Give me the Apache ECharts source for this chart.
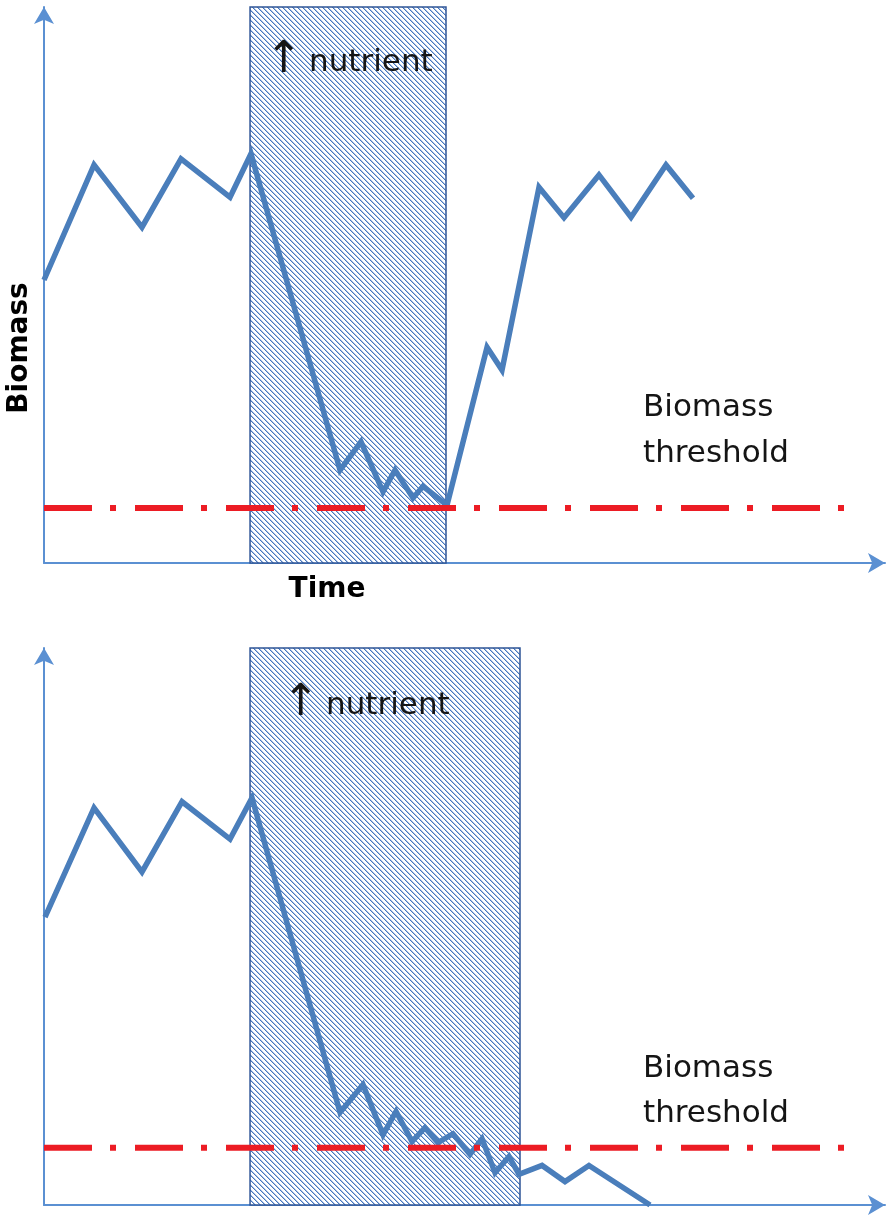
<!DOCTYPE html>
<html>
<head>
<meta charset="utf-8">
<script src="https://cdn.jsdelivr.net/npm/echarts@6/dist/echarts.min.js"></script>
<style>
  html, body { margin: 0; padding: 0; background: #fff; }
  #chart { width: 892px; height: 1220px; }
</style>
</head>
<body>
<div id="chart"></div>
<script>
// both panels: time 0..100 along x, biomass 0..100 up y (schematic units)
var topTime       = [0, 5.95, 11.65, 16.29, 22.12, 24.61, 35.20, 37.69, 40.31, 41.74, 43.88, 45.07, 47.92, 52.68, 54.46, 58.86, 61.83, 65.99, 69.80, 73.96, 77.17];
var topBiomass    = [50.9, 71.6, 60.4, 72.7, 65.8, 73.6, 16.7, 21.8, 12.8, 16.7, 11.7, 13.8, 10.4, 38.8, 34.7, 67.6, 62.1, 69.8, 62.2, 71.6, 65.6];
var bottomTime    = [0.12, 5.95, 11.65, 16.41, 22.12, 24.73, 35.20, 37.93, 40.31, 41.86, 43.76, 45.30, 46.85, 48.63, 50.65, 52.08, 53.63, 55.29, 56.48, 59.22, 61.95, 64.80, 72.06];
var bottomBiomass = [51.7, 71.3, 59.8, 72.4, 65.7, 73.1, 16.6, 21.6, 12.6, 16.8, 11.4, 13.9, 11.2, 12.8, 9.1, 11.9, 5.8, 8.7, 5.5, 7.1, 4.2, 7.1, 0];
var thresholdLevel = [9.9, 10.3];
var thresholdEnd = 95.2;
var pulseStart = [24.5, 24.5];
var pulseEnd   = [47.8, 56.6];

var lineBlue = '#4a7ebb';
var axisBlue = '#5b90d2';

// diagonal hatch tile (pixel staircase) for the nutrient pulse box
function hatchTile() {
    var p = 5;
    var c = document.createElement('canvas');
    c.width = p; c.height = p;
    var ctx = c.getContext('2d');
    ctx.fillStyle = '#fff';
    ctx.fillRect(0, 0, p, p);
    for (var y = 0; y < p; y++) {
        ctx.fillStyle = '#4677c0';
        ctx.fillRect(y, y, 1, 1);
        ctx.fillStyle = 'rgba(70,119,192,0.45)';
        ctx.fillRect((y + 1) % p, y, 1, 1);
    }
    return c;
}
var hatch = { image: hatchTile(), repeat: 'repeat' };

function zip(xs, ys) {
    var out = [];
    for (var i = 0; i < xs.length; i++) out.push([xs[i], ys[i]]);
    return out;
}

function axisLine() {
    return {
        show: true,
        symbol: ['none', 'arrow'],
        symbolSize: [15, 17],
        lineStyle: { color: axisBlue, width: 2 }
    };
}

var xAxes = [], yAxes = [], series = [];
var grids = [
    { left: 44, top: 7, width: 841, height: 556 },
    { left: 44, top: 648, width: 841, height: 557 }
];
var panels = [zip(topTime, topBiomass), zip(bottomTime, bottomBiomass)];

for (var i = 0; i < 2; i++) {
    xAxes.push({
        gridIndex: i, type: 'value', min: 0, max: 100,
        axisLine: axisLine(), axisTick: { show: false },
        axisLabel: { show: false }, splitLine: { show: false }
    });
    yAxes.push({
        gridIndex: i, type: 'value', min: 0, max: 100,
        axisLine: axisLine(), axisTick: { show: false },
        axisLabel: { show: false }, splitLine: { show: false }
    });
    // hatched box on its own series so it stays under the lines
    series.push({
        type: 'line',
        xAxisIndex: i, yAxisIndex: i,
        data: [],
        silent: true,
        z: 1,
        markArea: {
            silent: true,
            z: 1,
            label: { show: false },
            itemStyle: { color: hatch, borderColor: '#2f5597', borderWidth: 1.5 },
            data: [[{ xAxis: pulseStart[i], yAxis: 0 }, { xAxis: pulseEnd[i], yAxis: 100 }]]
        }
    });
    series.push({
        type: 'line',
        xAxisIndex: i, yAxisIndex: i,
        data: panels[i],
        symbol: 'none',
        silent: true,
        lineStyle: { color: lineBlue, width: 5.5, join: 'miter' },
        z: 5
    });
    series.push({
        type: 'line',
        xAxisIndex: i, yAxisIndex: i,
        data: [[0, thresholdLevel[i]], [thresholdEnd, thresholdLevel[i]]],
        symbol: 'none',
        silent: true,
        lineStyle: { color: '#ec1c24', width: 6, type: [48, 18, 6, 19], cap: 'butt' },
        z: 6
    });
}

var txt = '#151515';
var chart = echarts.init(document.getElementById('chart'));
chart.setOption({
    backgroundColor: '#fff',
    animation: false,
    grid: grids,
    xAxis: xAxes,
    yAxis: yAxes,
    series: series,
    graphic: [
        { type: 'text', x: 284, y: 61, z: 10,
          style: { text: '\u2191', fill: txt, font: '44px "DejaVu Sans"', align: 'center', verticalAlign: 'middle' } },
        { type: 'text', x: 309, y: 63, z: 10,
          style: { text: 'nutrient', fill: txt, font: '31px "DejaVu Sans"', align: 'left', verticalAlign: 'middle' } },
        { type: 'text', x: 301, y: 704, z: 10,
          style: { text: '\u2191', fill: txt, font: '44px "DejaVu Sans"', align: 'center', verticalAlign: 'middle' } },
        { type: 'text', x: 326, y: 706, z: 10,
          style: { text: 'nutrient', fill: txt, font: '31px "DejaVu Sans"', align: 'left', verticalAlign: 'middle' } },
        { type: 'text', x: 643, y: 385, z: 10,
          style: { text: 'Biomass\nthreshold', fill: txt, font: '31px "DejaVu Sans"', lineHeight: 46, align: 'left', verticalAlign: 'top' } },
        { type: 'text', x: 643, y: 1046, z: 10,
          style: { text: 'Biomass\nthreshold', fill: txt, font: '31px "DejaVu Sans"', lineHeight: 45, align: 'left', verticalAlign: 'top' } },
        { type: 'text', x: 327, y: 590, z: 10,
          style: { text: 'Time', fill: '#000', font: 'bold 28px "DejaVu Sans"', align: 'center', verticalAlign: 'middle' } },
        { type: 'text', x: 20, y: 348, rotation: Math.PI / 2, z: 10,
          style: { text: 'Biomass', fill: '#000', font: 'bold 28px "DejaVu Sans"', align: 'center', verticalAlign: 'middle' } }
    ]
});
</script>
</body>
</html>
